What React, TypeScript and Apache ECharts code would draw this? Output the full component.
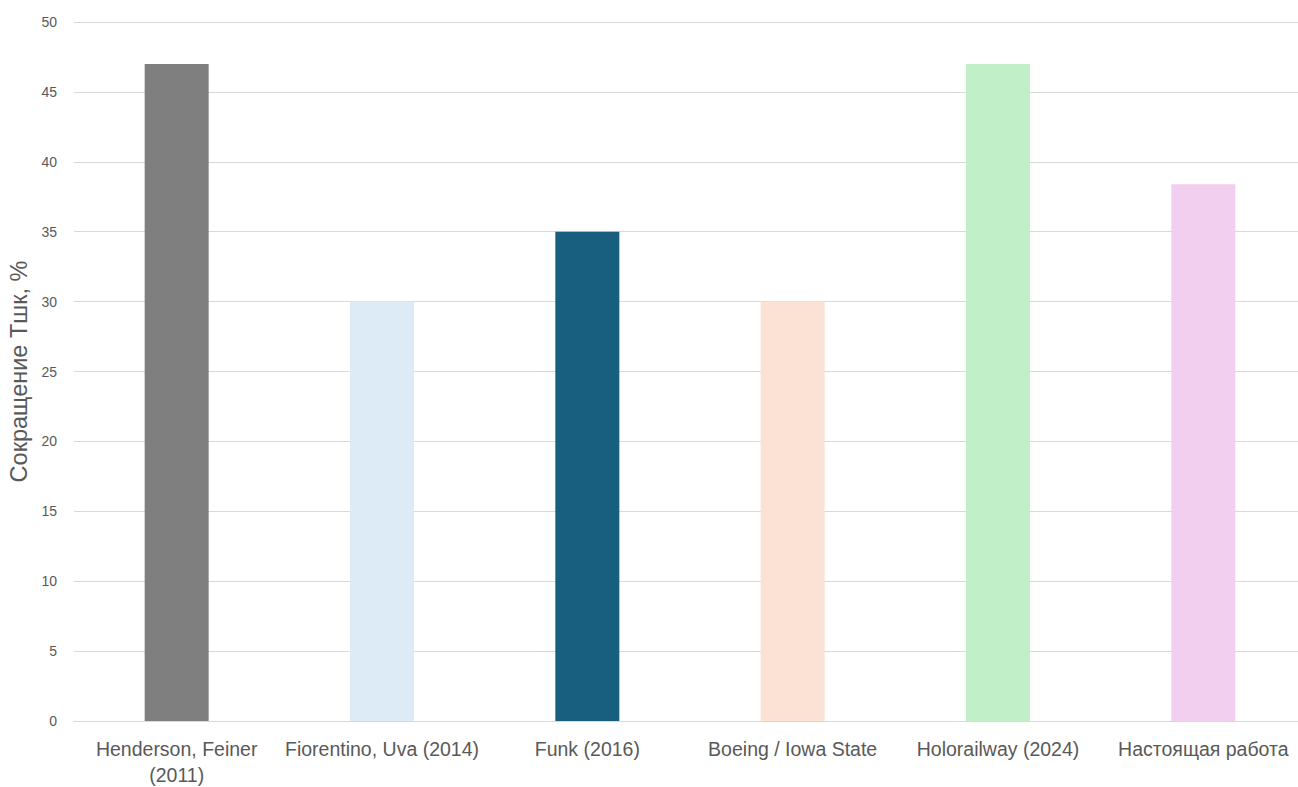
import React, { useEffect, useRef } from "react";
import * as echarts from "echarts";

const categories = [
  "Henderson, Feiner\n(2011)",
  "Fiorentino, Uva (2014)",
  "Funk (2016)",
  "Boeing / Iowa State",
  "Holorailway (2024)",
  "Настоящая работа",
];
const values = [47, 30, 35, 30, 47, 38.4];
const barColors = ["#7F7F7F", "#DDEBF7", "#175E7F", "#FBE2D5", "#C1F0C8", "#F2CEEF"];
const yTitle = "Сокращение Тшк, %";

export default function App() {
  const ref = useRef<HTMLDivElement>(null);

  useEffect(() => {
    if (!ref.current) return;
    document.documentElement.style.overflow = "hidden";
    document.body.style.margin = "0";
    const chart = echarts.init(ref.current, undefined, { renderer: "svg" });
    chart.setOption({
      animation: false,
      backgroundColor: "#FFFFFF",
      textStyle: { fontFamily: "Liberation Sans, Arial, sans-serif" },
      // the last category band runs a little past the right edge, so the plot is clipped there
      grid: {
        left: 74,
        top: 22,
        width: 1232,
        height: 699,
        containLabel: false,
        outerBoundsMode: "none",
      },
      xAxis: {
        type: "category",
        data: categories,
        axisLine: { show: true, lineStyle: { color: "#D9D9D9", width: 1 } },
        axisTick: { show: false },
        axisLabel: {
          color: "#595959",
          fontSize: 19.5,
          margin: 15,
          lineHeight: 26,
          interval: 0,
        },
      },
      yAxis: {
        type: "value",
        min: 0,
        max: 50,
        interval: 5,
        name: yTitle,
        nameLocation: "middle",
        nameGap: 41,
        nameTextStyle: { color: "#595959", fontSize: 23.5 },
        axisLine: { show: false },
        axisTick: { show: false },
        axisLabel: { color: "#595959", fontSize: 14, margin: 17 },
        splitLine: { lineStyle: { color: "#D9D9D9", width: 1 } },
      },
      series: [
        {
          type: "bar",
          barWidth: 64,
          data: values.map((v, i) => ({ value: v, itemStyle: { color: barColors[i] } })),
        },
      ],
    });
    return () => chart.dispose();
  }, []);

  return (
    <div
      ref={ref}
      style={{
        position: "fixed",
        left: 0,
        top: 0,
        width: 1298,
        height: 787,
        overflow: "hidden",
        background: "#fff",
      }}
    />
  );
}
